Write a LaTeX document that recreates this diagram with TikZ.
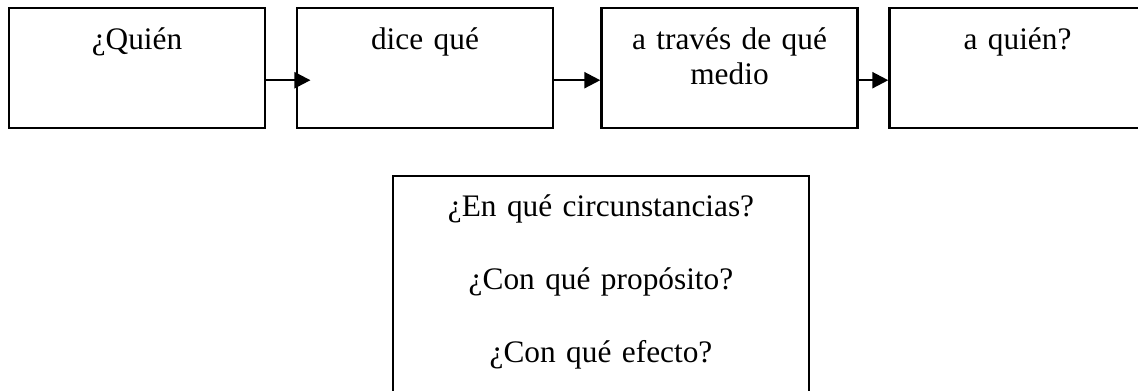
\documentclass[tikz,border=0pt]{standalone}
\usepackage{fontspec}
\setmainfont{Liberation Serif}
\usetikzlibrary{arrows.meta}
\tikzstyle{etapa} = [rectangle, draw=black, line width=1.8pt, minimum width=192pt, text width=186pt, align=center, inner xsep=3pt, inner ysep=0pt, text height=30.75pt, text depth=59.25pt, anchor=north, font=\fontsize{23.5pt}{26.25pt}\selectfont]
\tikzstyle{pregunta} = [rectangle, draw=black, line width=1.8pt, minimum width=312pt, text width=306pt, align=center, inner xsep=3pt, inner ysep=0pt, text height=30pt, text depth=135pt, anchor=north, font=\fontsize{23.5pt}{55pt}\selectfont]

\begin{document}
\begin{tikzpicture}[x=0.75pt,y=-0.75pt]
        \clip (0,0) rectangle (1138,390);
        \node[etapa] (quien) at (137,7) {¿Quién};
        \node[etapa] (dice) at (425,7) {dice qué};
        \node[etapa] (medio) at (729.5,7) {a través de qué\\medio};
        \node[etapa] (aquien) at (1017.5,7) {a quién?};
        \node[pregunta] (dudas) at (601,175) {¿En qué circunstancias?\\¿Con qué propósito?\\¿Con qué efecto?};
    \begin{scope}[-{Triangle[length=12pt,width=12pt]}, line width=1.8pt]
        \draw ([yshift=-9pt]quien.east) -- ([xshift=11pt,yshift=-9pt]dice.west);
        \draw ([yshift=-9pt]dice.east) -- ([yshift=-9pt]medio.west);
        \draw ([yshift=-9pt]medio.east) -- ([yshift=-9pt]aquien.west);
    \end{scope}
    \end{tikzpicture}
\end{document}
